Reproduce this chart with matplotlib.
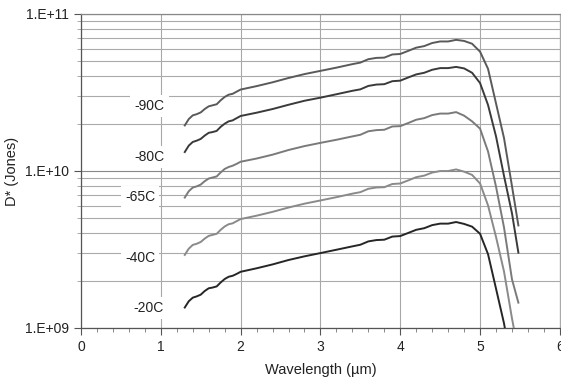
import matplotlib
matplotlib.use('Agg')
import matplotlib.pyplot as plt
from matplotlib.ticker import FixedLocator, NullFormatter
import numpy as np

plt.rcParams['font.family'] = ['Liberation Sans', 'DejaVu Sans']

# wavelength grid (um)
wl = [1.3, 1.35, 1.4, 1.45, 1.5, 1.55, 1.6, 1.65, 1.7, 1.75, 1.8, 1.85, 1.9, 1.95,
      2.0, 2.2, 2.4, 2.6, 2.8, 3.0, 3.2, 3.4, 3.5, 3.6, 3.7, 3.8, 3.9, 4.0,
      4.1, 4.2, 4.3, 4.4, 4.5, 4.6, 4.7, 4.8, 4.9, 5.0, 5.1, 5.2, 5.3, 5.4, 5.48]

# D* in units of 1e10 Jones
d_m90 = [1.95, 2.14, 2.26, 2.30, 2.36, 2.48, 2.58, 2.62, 2.66, 2.82, 2.96, 3.06, 3.10, 3.20,
         3.30, 3.47, 3.67, 3.91, 4.14, 4.34, 4.55, 4.79, 4.90, 5.15, 5.25, 5.27, 5.52, 5.56,
         5.82, 6.10, 6.24, 6.53, 6.68, 6.68, 6.84, 6.73, 6.46, 5.75, 4.47, 2.69, 1.62, 0.80, 0.45]
d_m80 = [1.32, 1.45, 1.53, 1.56, 1.60, 1.68, 1.75, 1.77, 1.80, 1.91, 2.00, 2.07, 2.10, 2.17,
         2.24, 2.35, 2.48, 2.64, 2.80, 2.93, 3.08, 3.24, 3.31, 3.48, 3.55, 3.57, 3.73, 3.76,
         3.94, 4.12, 4.22, 4.41, 4.52, 4.52, 4.60, 4.50, 4.22, 3.63, 2.63, 1.66, 0.93, 0.537, 0.302]
d_m65 = [0.677, 0.743, 0.784, 0.798, 0.819, 0.861, 0.895, 0.909, 0.923, 0.979, 1.03, 1.06, 1.08, 1.11,
         1.145, 1.20, 1.27, 1.36, 1.44, 1.51, 1.58, 1.66, 1.70, 1.79, 1.82, 1.83, 1.92, 1.93,
         2.02, 2.12, 2.17, 2.27, 2.32, 2.32, 2.37, 2.25, 2.07, 1.86, 1.33, 0.794, 0.437, 0.204, 0.145]
d_m40 = [0.292, 0.320, 0.338, 0.344, 0.353, 0.371, 0.386, 0.392, 0.398, 0.422, 0.443, 0.458, 0.464, 0.479,
         0.494, 0.519, 0.549, 0.585, 0.619, 0.649, 0.681, 0.717, 0.733, 0.770, 0.785, 0.788, 0.826, 0.832,
         0.871, 0.913, 0.934, 0.977, 0.999, 0.999, 1.023, 0.99, 0.944, 0.832, 0.603, 0.380, 0.229, 0.115, 0.07]
d_m20 = [0.135, 0.148, 0.156, 0.159, 0.163, 0.172, 0.179, 0.181, 0.184, 0.195, 0.205, 0.212, 0.215, 0.221,
         0.228, 0.240, 0.254, 0.271, 0.286, 0.300, 0.315, 0.331, 0.339, 0.356, 0.363, 0.365, 0.382, 0.385,
         0.403, 0.422, 0.432, 0.452, 0.462, 0.462, 0.473, 0.460, 0.442, 0.398, 0.295, 0.178, 0.107, 0.056, 0.03]

labels = ['-90C', '-80C', '-65C', '-40C', '-20C']
series = [d_m90, d_m80, d_m65, d_m40, d_m20]
colors = ['#5a5a5a', '#3a3a3a', '#7a7a7a', '#8a8a8a', '#262626']
label_x = [0.86, 0.86, 0.74, 0.74, 0.85]
label_y = [2.6e10, 1.23e10, 6.8e9, 2.79e9, 1.34e9]

fig = plt.figure(figsize=(5.61, 3.77), dpi=100)
ax = fig.add_axes([0.1444, 0.13, 0.8536, 0.833])

for d, c in zip(series, colors):
    ax.plot(wl, np.array(d) * 1e10, color=c, lw=1.4, zorder=3)

for lb, lx, ly in zip(labels, label_x, label_y):
    ax.text(lx, ly, lb, fontsize=10, ha='center', va='center', color='#222222', zorder=4,
            bbox=dict(facecolor='white', edgecolor='none', pad=3))

ax.set_yscale('log')
ax.set_xlim(0, 6)
ax.set_ylim(1e9, 1e11)

ax.xaxis.set_major_locator(FixedLocator([0, 1, 2, 3, 4, 5, 6]))
ax.xaxis.set_minor_locator(FixedLocator(np.arange(0, 6.01, 0.2)))
ax.set_xticklabels(['0', '1', '2', '3', '4', '5', '6'], fontsize=10)

ax.yaxis.set_major_locator(FixedLocator([1e9, 1e10, 1e11]))
minors = [m * 10 ** e for e in (9, 10) for m in range(2, 10)]
ax.yaxis.set_minor_locator(FixedLocator(minors))
ax.yaxis.set_minor_formatter(NullFormatter())
ax.set_yticklabels(['1.E+09', '1.E+10', '1.E+11'], fontsize=10)

ax.tick_params(axis='both', which='major', direction='out', length=5, width=0.8,
               color='#555555', labelcolor='#222222', pad=4)
ax.tick_params(axis='both', which='minor', direction='out', length=3, width=0.7, color='#888888')
ax.tick_params(axis='y', which='minor', color='#aaaaaa')

ax.grid(True, which='major', axis='x', color='#a8a8a8', lw=0.8)
ax.grid(True, which='major', axis='y', color='#888888', lw=0.8)
ax.grid(True, which='minor', axis='y', color='#aaaaaa', lw=0.8)
ax.set_axisbelow(True)

ax.spines['left'].set_color('#555555')
ax.spines['bottom'].set_color('#555555')
ax.spines['top'].set_color('#888888')
ax.spines['right'].set_color('#aaaaaa')
for s in ax.spines.values():
    s.set_linewidth(0.9)

ax.set_xlabel('Wavelength (\u00b5m)', fontsize=10.5, color='#222222', labelpad=6)
ax.set_ylabel('D* (Jones)', fontsize=10.5, color='#222222', labelpad=4)

fig.savefig('out.png', dpi=100)
